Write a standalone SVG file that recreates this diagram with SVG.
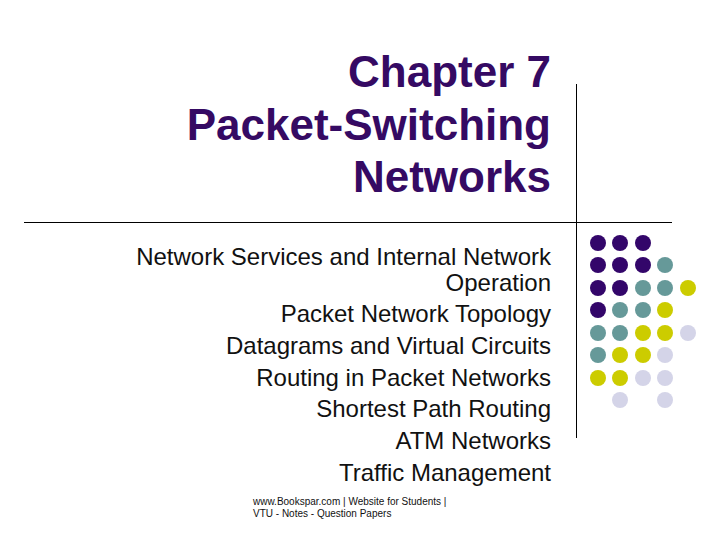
<svg xmlns="http://www.w3.org/2000/svg" width="720" height="540" viewBox="0 0 720 540">
<style>
text{font-family:"Liberation Sans",Arial,sans-serif;text-anchor:end}
.t{font-size:44px;font-weight:bold;fill:#350a63}
.b{font-size:24px;fill:#111}
.f{font-size:10px;text-anchor:start;fill:#111}
.p{fill:#33066a}.g{fill:#669999}.y{fill:#cccc00}.l{fill:#d4d4e8}
line{stroke:#000;stroke-width:1}
</style>
<rect width="720" height="540" fill="#fff"/>
<line x1="24" y1="222.5" x2="672" y2="222.5"/>
<line x1="576.5" y1="84" x2="576.5" y2="438"/>
<g>
<text class="t" x="551" y="87">Chapter 7</text>
<text class="t" x="551" y="140">Packet-Switching</text>
<text class="t" x="551" y="192">Networks</text>
</g>
<g>
<text class="b" x="551" y="265">Network Services and Internal Network</text>
<text class="b" x="551" y="291">Operation</text>
<text class="b" x="551" y="322">Packet Network Topology</text>
<text class="b" x="551" y="354">Datagrams and Virtual Circuits</text>
<text class="b" x="551" y="386">Routing in Packet Networks</text>
<text class="b" x="551" y="417">Shortest Path Routing</text>
<text class="b" x="551" y="449">ATM Networks</text>
<text class="b" x="551" y="481">Traffic Management</text>
</g>
<text class="f" x="253" y="505">www.Bookspar.com | Website for Students |</text>
<text class="f" x="253" y="517">VTU - Notes - Question Papers</text>
<g>
<circle class="p" cx="598" cy="243" r="8"/><circle class="p" cx="620" cy="243" r="8"/><circle class="p" cx="643" cy="243" r="8"/>
<circle class="p" cx="598" cy="265" r="8"/><circle class="p" cx="620" cy="265" r="8"/><circle class="p" cx="643" cy="265" r="8"/><circle class="g" cx="665" cy="265" r="8"/>
<circle class="p" cx="598" cy="288" r="8"/><circle class="p" cx="620" cy="288" r="8"/><circle class="g" cx="643" cy="288" r="8"/><circle class="g" cx="665" cy="288" r="8"/><circle class="y" cx="688" cy="288" r="8"/>
<circle class="p" cx="598" cy="310" r="8"/><circle class="g" cx="620" cy="310" r="8"/><circle class="g" cx="643" cy="310" r="8"/><circle class="y" cx="665" cy="310" r="8"/>
<circle class="g" cx="598" cy="333" r="8"/><circle class="g" cx="620" cy="333" r="8"/><circle class="y" cx="643" cy="333" r="8"/><circle class="y" cx="665" cy="333" r="8"/><circle class="l" cx="688" cy="333" r="8"/>
<circle class="g" cx="598" cy="355" r="8"/><circle class="y" cx="620" cy="355" r="8"/><circle class="y" cx="643" cy="355" r="8"/><circle class="l" cx="665" cy="355" r="8"/>
<circle class="y" cx="598" cy="378" r="8"/><circle class="y" cx="620" cy="378" r="8"/><circle class="l" cx="643" cy="378" r="8"/><circle class="l" cx="665" cy="378" r="8"/>
<circle class="l" cx="620" cy="400" r="8"/><circle class="l" cx="665" cy="400" r="8"/>
</g>
</svg>
